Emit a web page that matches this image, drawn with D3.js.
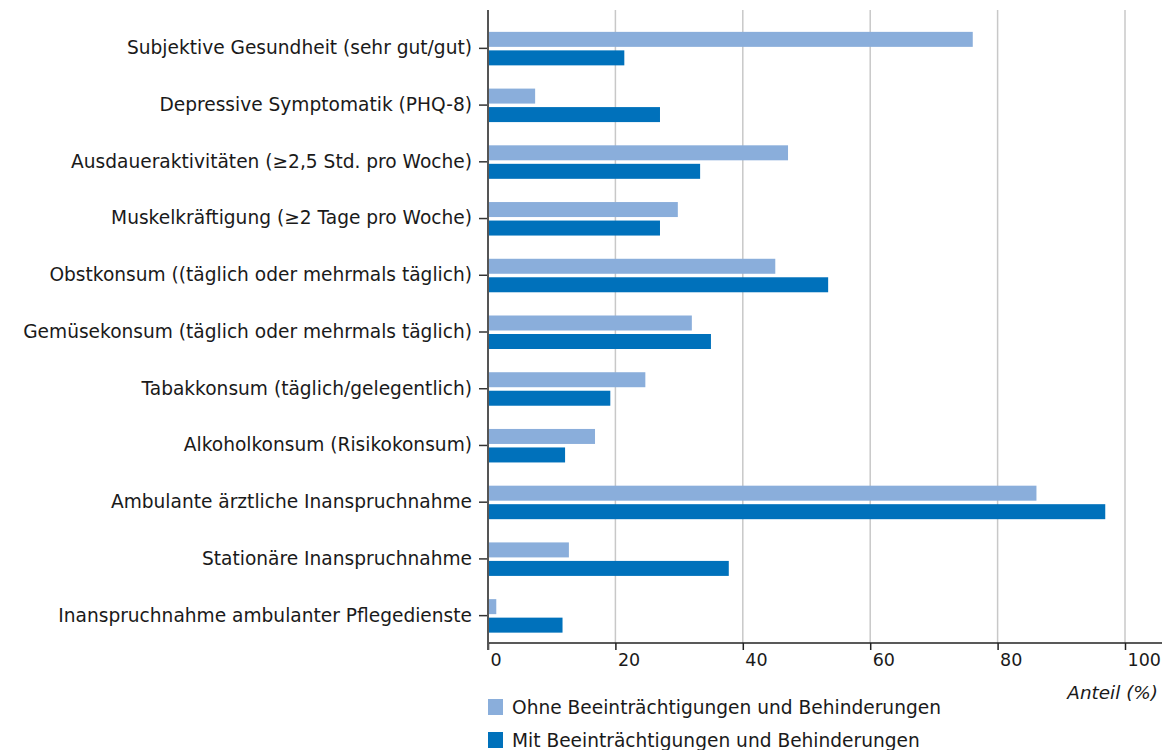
<!DOCTYPE html>
<html><head><meta charset="utf-8">
<script src="https://cdn.jsdelivr.net/npm/d3@7"></script>
<style>
html,body{margin:0;padding:0;background:#fff;}
text{font-family:"DejaVu Sans",sans-serif;fill:#1a1a1a;}
</style></head>
<body><svg id="c" width="1162" height="750"></svg>
<script>
const categories = [
  "Subjektive Gesundheit (sehr gut/gut)",
  "Depressive Symptomatik (PHQ-8)",
  "Ausdaueraktivitäten (≥2,5 Std. pro Woche)",
  "Muskelkräftigung (≥2 Tage pro Woche)",
  "Obstkonsum ((täglich oder mehrmals täglich)",
  "Gemüsekonsum (täglich oder mehrmals täglich)",
  "Tabakkonsum (täglich/gelegentlich)",
  "Alkoholkonsum (Risikokonsum)",
  "Ambulante ärztliche Inanspruchnahme",
  "Stationäre Inanspruchnahme",
  "Inanspruchnahme ambulanter Pflegedienste"
];
const ohne = [76.1, 7.4, 47.1, 29.8, 45.1, 32.0, 24.7, 16.8, 86.1, 12.7, 1.3];
const mit  = [21.4, 27.0, 33.3, 27.0, 53.4, 35.0, 19.2, 12.1, 96.9, 37.8, 11.7];
const seriesNames = ["Ohne Beeinträchtigungen und Behinderungen", "Mit Beeinträchtigungen und Behinderungen"];
const xTicks = [0, 20, 40, 60, 80, 100];
const xTitle = "Anteil (%)";
const colors = ["#8aaedb", "#0071bb"];

const fs = "18.6px";
const svg = d3.select("#c");
const x = d3.scaleLinear().domain([0, 100]).range([488, 1125]);
const y = d3.scaleBand().domain(categories).range([20, 644]);
const plotTop = 10, plotBottom = 643;

// gridlines
svg.append("g").selectAll("line").data(xTicks.filter(d => d > 0)).join("line")
  .attr("x1", d => x(d)).attr("x2", d => x(d)).attr("y1", plotTop).attr("y2", plotBottom)
  .attr("stroke", "#c8c8c8").attr("stroke-width", 1.5);

// bars
const bh = 15;
svg.append("g").selectAll("rect").data(categories).join("rect")
  .attr("x", x(0)).attr("y", d => y(d) + y.bandwidth()/2 - 16.5)
  .attr("width", (d, i) => x(ohne[i]) - x(0)).attr("height", bh).attr("fill", colors[0]);
svg.append("g").selectAll("rect").data(categories).join("rect")
  .attr("x", x(0)).attr("y", d => y(d) + y.bandwidth()/2 + 2)
  .attr("width", (d, i) => x(mit[i]) - x(0)).attr("height", bh).attr("fill", colors[1]);

// x axis
const xa = svg.append("g").attr("transform", `translate(0,${plotBottom})`)
  .call(d3.axisBottom(x).tickValues(xTicks).tickSize(7).tickPadding(4));
xa.select(".domain").remove();
xa.selectAll(".tick line").attr("stroke", "#222").attr("stroke-width", 1.5);
xa.selectAll(".tick text").attr("text-anchor", "start").attr("dx", 2)
  .style("font-size", "17.5px").attr("fill", "#1a1a1a");
svg.append("line").attr("x1", x(0)).attr("x2", 1162).attr("y1", plotBottom).attr("y2", plotBottom)
  .attr("stroke", "#222").attr("stroke-width", 1.5);

// y axis
const ya = svg.append("g").attr("transform", `translate(${x(0)},0)`)
  .call(d3.axisLeft(y).tickSize(9).tickPadding(7));
ya.select(".domain").remove();
ya.selectAll(".tick line").attr("stroke", "#333").attr("stroke-width", 1.5);
ya.selectAll(".tick text").style("font-size", fs).attr("fill", "#1a1a1a");
svg.append("line").attr("x1", x(0)).attr("x2", x(0)).attr("y1", plotTop).attr("y2", plotBottom + 7)
  .attr("stroke", "#555").attr("stroke-width", 2);

// axis title
svg.append("text").attr("x", 1158).attr("y", 699).attr("text-anchor", "end")
  .style("font-style", "italic").style("font-size", "18.4px").text(xTitle);

// legend
const lg = svg.append("g").selectAll("g").data(seriesNames).join("g")
  .attr("transform", (d, i) => `translate(488,${699 + i * 33})`);
lg.append("rect").attr("width", 15).attr("height", 16).attr("fill", (d, i) => colors[i]);
lg.append("text").attr("x", 24).attr("y", 15).style("font-size", fs).text(d => d);
</script></body></html>
